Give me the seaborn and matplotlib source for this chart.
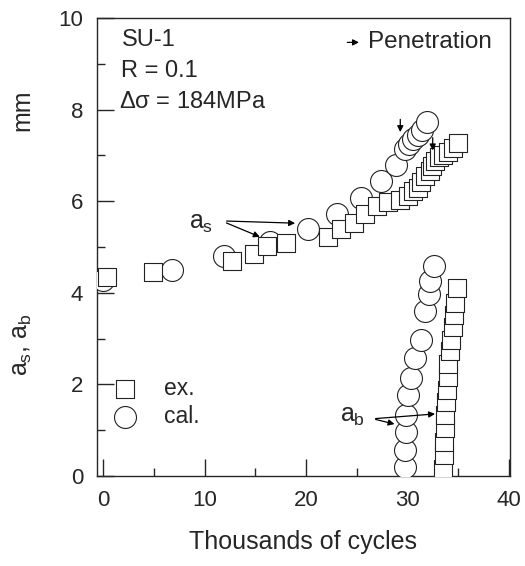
import numpy as np
import pandas as pd
import seaborn as sns
import matplotlib.pyplot as plt
from matplotlib.ticker import MultipleLocator

sns.set_style('ticks')
plt.rcParams['font.family'] = ['Liberation Sans', 'DejaVu Sans']
plt.rcParams['mathtext.fontset'] = 'custom'
plt.rcParams['mathtext.rm'] = 'Liberation Sans'
plt.rcParams['mathtext.it'] = 'Liberation Sans'

# surface crack depth a_s, experiment (squares)
as_ex_x = [0.4, 4.9, 12.7, 14.9, 16.2, 18.0, 22.2, 23.5, 24.7, 25.8, 27.0, 28.1,
           29.3, 30.1, 30.6, 31.0, 31.3, 31.75, 32.2, 32.4, 32.7, 33.1, 33.5,
           34.05, 34.5, 35.0]
as_ex_y = [4.35, 4.46, 4.69, 4.85, 5.02, 5.09, 5.22, 5.40, 5.53, 5.72, 5.90, 5.99,
           6.02, 6.12, 6.23, 6.30, 6.41, 6.56, 6.67, 6.78, 6.89, 6.96, 7.02,
           7.08, 7.17, 7.27]
# surface crack depth a_s, calculation (circles)
as_cal_x = [0.0, 6.8, 11.9, 16.5, 20.2, 23.1, 25.4, 27.35, 28.9, 29.8, 30.2, 30.6,
            31.0, 31.4, 31.9]
as_cal_y = [4.28, 4.49, 4.80, 5.12, 5.39, 5.73, 6.07, 6.45, 6.80, 7.15, 7.25, 7.35,
            7.45, 7.55, 7.74]
# back crack depth a_b, experiment
ab_ex_x = [33.56, 33.6, 33.62, 33.7, 33.73, 33.8, 33.9, 33.96, 34.05, 34.2, 34.35,
           34.5, 34.6, 34.7, 34.87]
ab_ex_y = [0.16, 0.46, 0.75, 1.05, 1.34, 1.61, 1.88, 2.17, 2.45, 2.72, 2.98, 3.25,
           3.52, 3.78, 4.11]
# back crack depth a_b, calculation
ab_cal_x = [29.8, 29.8, 29.9, 29.9, 30.1, 30.4, 30.8, 31.3, 31.75, 32.1, 32.25, 32.6]
ab_cal_y = [0.2, 0.56, 0.96, 1.33, 1.77, 2.13, 2.57, 2.98, 3.6, 3.97, 4.25, 4.58]

ex = pd.DataFrame({'cycles': as_ex_x + ab_ex_x, 'depth': as_ex_y + ab_ex_y})
cal = pd.DataFrame({'cycles': as_cal_x + ab_cal_x, 'depth': as_cal_y + ab_cal_y})

fig = plt.figure(figsize=(5.25, 5.66), dpi=100)
ax = fig.add_axes([0.185, 0.159, 0.786, 0.809])

sns.scatterplot(data=cal, x='cycles', y='depth', marker='o', s=250, color='white',
                edgecolor='#222222', linewidth=0.8, label='cal.', ax=ax, zorder=3)
sns.scatterplot(data=ex, x='cycles', y='depth', marker='s', s=170, color='white',
                edgecolor='#222222', linewidth=0.8, label='ex.', ax=ax, zorder=4)

ax.set_xlim(-0.6, 40.1)
ax.set_ylim(0, 10)
ax.xaxis.set_major_locator(MultipleLocator(10))
ax.xaxis.set_minor_locator(MultipleLocator(5))
ax.yaxis.set_major_locator(MultipleLocator(2))
ax.yaxis.set_minor_locator(MultipleLocator(1))
ax.tick_params(which='both', direction='in', labelsize=16, width=1)
ax.tick_params(which='major', length=12, pad=10)
ax.tick_params(which='minor', length=6)
for sp in ax.spines.values():
    sp.set_linewidth(1)

ax.set_xlabel('Thousands of cycles', fontsize=18, labelpad=14)
ax.set_ylabel('')
fig.text(0.042, 1 - 110 / 566, 'mm', rotation=90, fontsize=18, ha='center', va='center')
fig.text(0.042, 1 - 345 / 566, r'$a_{s}$, $a_{b}$', rotation=90, fontsize=18,
         ha='center', va='center')

# condition text
ax.text(1.8, 9.52, 'SU-1', fontsize=17, va='center')
ax.text(1.8, 8.84, 'R = 0.1', fontsize=17, va='center')
ax.text(1.6, 8.16, r'$\Delta\sigma$ = 184MPa', fontsize=17, va='center')

arrow = dict(arrowstyle='-|>', lw=0.9, color='black', mutation_scale=9)
ax.annotate('', xy=(25.5, 9.47), xytext=(23.8, 9.47), arrowprops=arrow)
ax.text(26.1, 9.47, 'Penetration', fontsize=17.5, va='center')
ax.annotate('', xy=(29.3, 7.45), xytext=(29.3, 7.85), arrowprops=arrow, zorder=6)
ax.annotate('', xy=(32.5, 7.05), xytext=(32.5, 7.45), arrowprops=arrow, zorder=6)

# crack labels
ax.text(9.6, 5.53, r'$a_{s}$', fontsize=18, ha='center', va='center')
ax.annotate('', xy=(19.2, 5.52), xytext=(11.9, 5.57), arrowprops=arrow, zorder=6)
ax.annotate('', xy=(15.7, 5.2), xytext=(11.9, 5.55), arrowprops=arrow, zorder=6)
ax.text(24.6, 1.3, r'$a_{b}$', fontsize=18, ha='center', va='center')
ax.annotate('', xy=(29.0, 1.12), xytext=(26.6, 1.25), arrowprops=arrow, zorder=6)
ax.annotate('', xy=(33.0, 1.36), xytext=(26.6, 1.25), arrowprops=arrow, zorder=6)

handles, labels = ax.get_legend_handles_labels()
ax.legend(handles[::-1], labels[::-1], loc='lower left', bbox_to_anchor=(-0.01, 0.06),
          frameon=False, fontsize=16.5, handlelength=1.0, handletextpad=1.2,
          labelspacing=0.2)

fig.savefig('out.png', dpi=100, facecolor='white')
